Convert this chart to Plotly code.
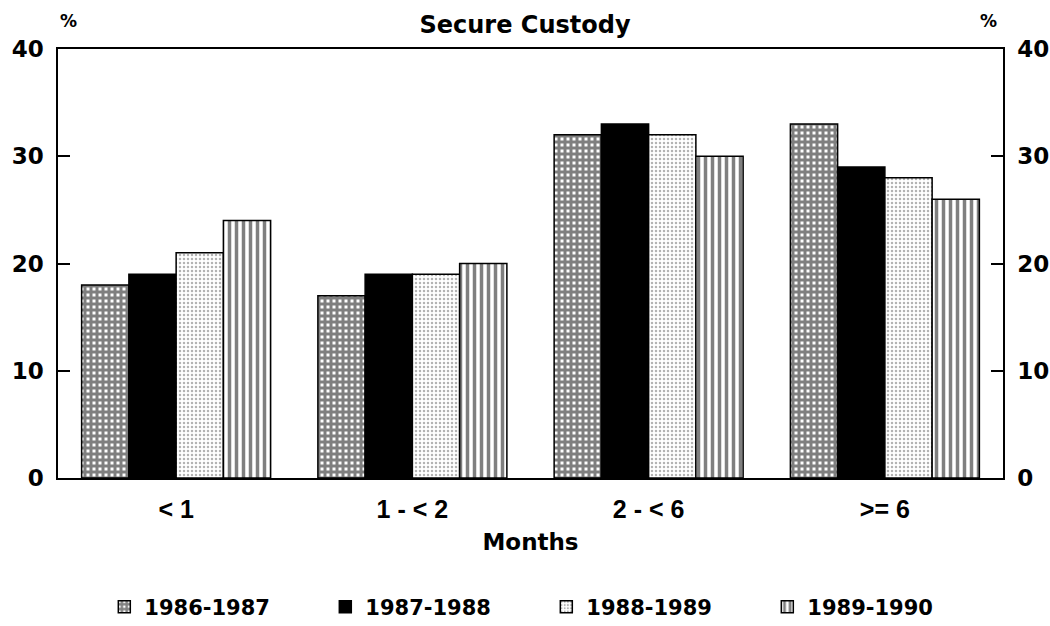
import plotly.graph_objects as go

categories = ["< 1", "1 - < 2", "2 - < 6", ">= 6"]
series_names = ["1986-1987", "1987-1988", "1988-1989", "1989-1990"]
v_1986 = [18, 17, 32, 33]
v_1987 = [19, 19, 33, 29]
v_1988 = [21, 19, 32, 28]
v_1989 = [24, 20, 30, 26]
values = [v_1986, v_1987, v_1988, v_1989]
y_ticks = [0, 10, 20, 30, 40]

patterns = [
    dict(shape="+", fgcolor="black", bgcolor="white", size=6, solidity=0.75),
    dict(shape="", fgcolor="black", bgcolor="black"),
    dict(shape=".", fgcolor="#666", bgcolor="white", size=4, solidity=0.3),
    dict(shape="|", fgcolor="black", bgcolor="white", size=7, solidity=0.5),
]
fills = ["white", "black", "white", "white"]

FONT = "DejaVu Sans"
fig = go.Figure()
for name, vals, pat, fc in zip(series_names, values, patterns, fills):
    fig.add_trace(go.Bar(
        x=categories, y=vals, name=name,
        marker=dict(color=fc, pattern=pat, line=dict(color="black", width=1.5)),
    ))
# invisible trace to carry the right-hand axis
fig.add_trace(go.Scatter(x=categories, y=v_1986, yaxis="y2", mode="markers",
                         marker=dict(opacity=0), showlegend=False, hoverinfo="skip"))

axis_common = dict(range=[0, 40], tickvals=y_ticks, showgrid=False, zeroline=False,
                   showline=True, linecolor="black", linewidth=1.5,
                   ticks="inside", ticklen=12, tickwidth=1.5, tickcolor="black",
                   ticklabelstandoff=8, automargin=False,
                   tickfont=dict(size=23, family=FONT, weight="bold"))

fig.update_layout(
    width=1050, height=626,
    paper_bgcolor="white", plot_bgcolor="white",
    margin=dict(l=58, r=47, t=49, b=148),
    barmode="group", bargap=0.2, bargroupgap=0,
    font=dict(family=FONT, color="black", size=18),
    title=dict(text="Secure Custody", x=0.5, xanchor="center", y=1 - 25 / 626,
               yanchor="middle", font=dict(size=24, family=FONT, weight="bold")),
    xaxis=dict(showline=True, linecolor="black", linewidth=1.5, mirror=True,
               ticks="", showgrid=False, automargin=False, ticklabelstandoff=8,
               tickfont=dict(size=25, family="Liberation Sans", weight="bold"),
               title=dict(text="Months", font=dict(size=23, weight="bold"), standoff=12)),
    yaxis=axis_common,
    yaxis2=dict(axis_common, overlaying="y", side="right"),
    legend=dict(orientation="h", x=0.049, xanchor="left", yref="container",
                y=(626 - 607) / 626, yanchor="middle",
                font=dict(size=21, family=FONT, weight="bold"), entrywidth=176,
                entrywidthmode="pixels", traceorder="normal"),
    annotations=[
        dict(text="%", x=0.0, xref="paper", y=1.0, yref="paper", xanchor="left",
             yanchor="bottom", xshift=0, yshift=16, showarrow=False,
             font=dict(size=17, weight="bold")),
        dict(text="%", x=1.0, xref="paper", y=1.0, yref="paper", xanchor="right",
             yanchor="bottom", xshift=-4, yshift=16, showarrow=False,
             font=dict(size=17, weight="bold")),
    ],
)
fig.write_html("out.html", post_script="document.body.style.margin='0';",
               config={"displayModeBar": False})
